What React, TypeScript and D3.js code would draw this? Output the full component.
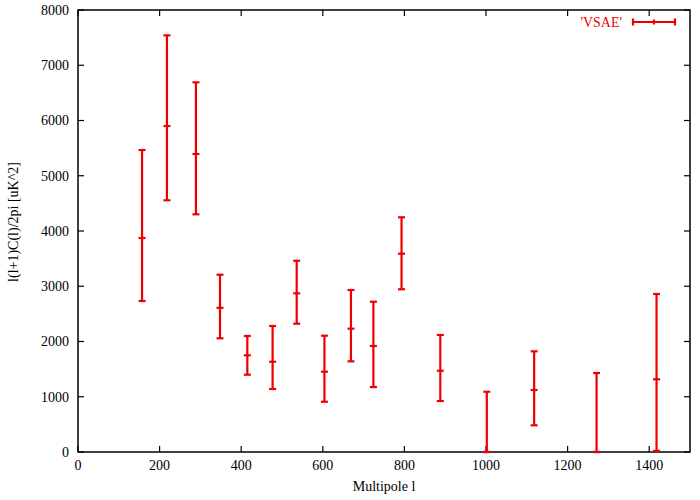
import React from "react";
import * as d3 from "d3";

const multipoles = [157, 218, 289, 348, 415, 477, 536, 604, 669, 724, 793, 888, 1002, 1118, 1271, 1418];
const values = [3873, 5900, 5394, 2609, 1750, 1634, 2872, 1453, 2232, 1919, 3589, 1471, 0, 1122, 0, 1316];
const lowers = [2733, 4556, 4302, 2058, 1399, 1140, 2322, 910, 1641, 1176, 2945, 923, 0, 483, 0, 20];
const uppers = [5466, 7541, 6691, 3209, 2100, 2281, 3462, 2105, 2932, 2720, 4248, 2118, 1091, 1822, 1430, 2860];
const xTicks = [0, 200, 400, 600, 800, 1000, 1200, 1400];
const yTicks = [0, 1000, 2000, 3000, 4000, 5000, 6000, 7000, 8000];
const seriesName = "'VSAE'";

const W = 700, H = 500;
const L = 78, R = 690, T = 10, B = 452;
const RED = "#ee0000";
const FONT = "Liberation Serif";
const fs = 14;

export default function App() {
  const x = d3.scaleLinear().domain([0, 1500]).range([L, R]);
  const y = d3.scaleLinear().domain([0, 8000]).range([B, T]);
  const cap = 3.5;
  const tick = 6;
  const legY = 22;
  const legX1 = 633, legX2 = 675;
  const ts = { fontFamily: FONT, fontSize: fs };
  return (
    <svg width={W} height={H} style={{ position: "absolute", left: 0, top: 0, background: "#fff" }}>
      <rect x={0} y={0} width={W} height={H} fill="#fff" />
      {xTicks.map((t) => (
        <g key={"x" + t}>
          <line x1={x(t)} x2={x(t)} y1={B} y2={B - tick} stroke="#000" strokeWidth={1.2} />
          <line x1={x(t)} x2={x(t)} y1={T} y2={T + tick} stroke="#000" strokeWidth={1.2} />
          <text x={x(t)} y={470} textAnchor="middle" style={ts} fill="#000">{t}</text>
        </g>
      ))}
      {yTicks.map((t) => (
        <g key={"y" + t}>
          <line x1={L} x2={L + tick} y1={y(t)} y2={y(t)} stroke="#000" strokeWidth={1.2} />
          <line x1={R} x2={R - tick} y1={y(t)} y2={y(t)} stroke="#000" strokeWidth={1.2} />
          <text x={69} y={y(t)} dy="0.35em" textAnchor="end" style={ts} fill="#000">{t}</text>
        </g>
      ))}
      <rect x={L} y={T} width={R - L} height={B - T} fill="none" stroke="#000" strokeWidth={1.5} />
      <text x={384} y={491} textAnchor="middle" style={ts} fill="#000">Multipole l</text>
      <text transform={`translate(18,222) rotate(-90)`} textAnchor="middle" style={ts} fill="#000">l(l+1)C(l)/2pi [uK^2]</text>
      {multipoles.map((m, i) => {
        const cx = x(m);
        return (
          <g key={"e" + i} stroke={RED} strokeWidth={2.2}>
            <line x1={cx} x2={cx} y1={y(lowers[i])} y2={y(uppers[i])} />
            <line x1={cx - cap} x2={cx + cap} y1={y(lowers[i])} y2={y(lowers[i])} />
            <line x1={cx - cap} x2={cx + cap} y1={y(uppers[i])} y2={y(uppers[i])} />
            <line x1={cx - cap} x2={cx + cap} y1={y(values[i])} y2={y(values[i])} />
          </g>
        );
      })}
      <text x={622} y={legY} dy="0.35em" textAnchor="end" style={ts} fill={RED}>{seriesName}</text>
      <g stroke={RED} strokeWidth={2.2}>
        <line x1={legX1} x2={legX2} y1={legY} y2={legY} />
        <line x1={legX1} x2={legX1} y1={legY - cap} y2={legY + cap} />
        <line x1={legX2} x2={legX2} y1={legY - cap} y2={legY + cap} />
        <line x1={(legX1 + legX2) / 2} x2={(legX1 + legX2) / 2} y1={legY - 2.5} y2={legY + 2.5} />
      </g>
    </svg>
  );
}
